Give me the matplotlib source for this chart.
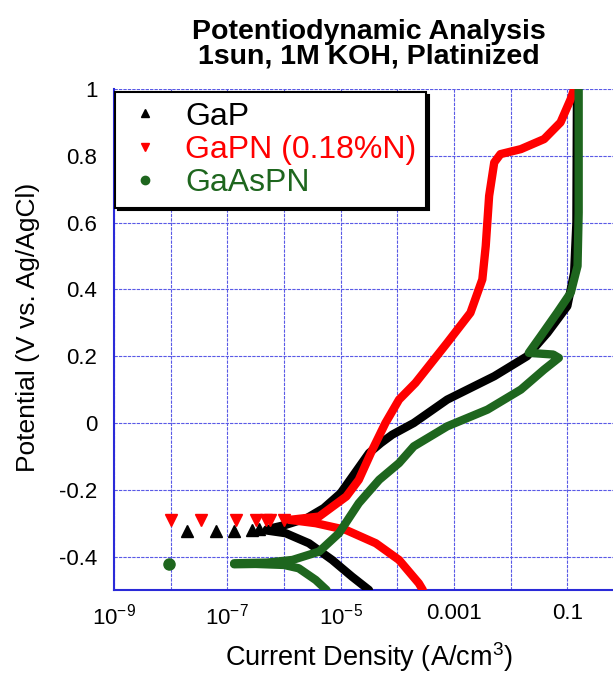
import numpy as np
import matplotlib.pyplot as plt
from matplotlib.lines import Line2D

plt.rcParams['font.family'] = ['Liberation Sans', 'DejaVu Sans']
plt.rcParams['mathtext.fontset'] = 'custom'
plt.rcParams['mathtext.rm'] = 'Liberation Sans'
plt.rcParams['mathtext.it'] = 'Liberation Sans'
plt.rcParams['mathtext.default'] = 'regular'

###################
# data (log10 of current density, potential V)
###################

# GaP
gap_pts_logi = [-7.72, -7.2, -6.88, -6.56, -6.44]
gap_pts_v = [-0.323, -0.323, -0.322, -0.32, -0.318]
gap_cat_logi = [-4.5, -4.8, -5.15, -5.56, -5.97, -6.3]
gap_cat_v = [-0.5, -0.46, -0.41, -0.36, -0.33, -0.322]
gap_ano_logi = [-6.3, -5.97, -5.6, -5.3, -5.0, -4.75, -4.5, -4.29, -4.09, -3.71,
                -3.12, -2.29, -1.71, -1.35, -1.0, -0.88, -0.84, -0.83]
gap_ano_v = [-0.318, -0.305, -0.285, -0.255, -0.21, -0.15, -0.09, -0.06, -0.035, 0.0,
             0.07, 0.14, 0.2, 0.27, 0.35, 0.45, 0.6, 1.0]

# GaPN (0.18%N)
gapn_pts_logi = [-8.0, -7.46, -6.84, -6.5, -6.32, -6.24, -6.0]
gapn_pts_v = [-0.29, -0.29, -0.29, -0.29, -0.29, -0.29, -0.29]
gapn_cat_logi = [-3.55, -3.62, -3.97, -4.38, -4.91, -5.44, -5.9]
gapn_cat_v = [-0.5, -0.48, -0.41, -0.36, -0.32, -0.30, -0.29]
gapn_ano_logi = [-5.9, -5.38, -4.9, -4.68, -4.44, -4.21, -3.97, -3.68, -3.12, -2.71,
                 -2.5, -2.44, -2.38, -2.29, -2.18, -1.82, -1.41, -1.12, -0.94, -0.88]
gapn_ano_v = [-0.29, -0.28, -0.22, -0.17, -0.08, 0.0, 0.07, 0.12, 0.24, 0.33,
              0.43, 0.53, 0.68, 0.78, 0.805, 0.82, 0.85, 0.9, 0.97, 1.0]

# GaAsPN
gaaspn_pts_logi = [-8.03]
gaaspn_pts_v = [-0.423]
gaaspn_cat_logi = [-5.25, -5.44, -5.74, -6.0, -6.5, -6.88]
gaaspn_cat_v = [-0.5, -0.47, -0.435, -0.425, -0.422, -0.423]
gaaspn_ano_logi = [-6.88, -6.3, -5.85, -5.38, -5.03, -4.68, -4.32, -3.97, -3.71, -3.12,
                   -2.41, -1.82, -1.41, -1.15, -1.25, -1.68, -1.47, -1.18, -0.94, -0.82,
                   -0.80, -0.80]
gaaspn_ano_v = [-0.42, -0.418, -0.41, -0.385, -0.33, -0.24, -0.17, -0.12, -0.07, -0.01,
                0.04, 0.10, 0.16, 0.195, 0.205, 0.21, 0.26, 0.33, 0.39, 0.47,
                0.63, 1.0]

labels = ['GaP', 'GaPN (0.18%N)', 'GaAsPN']
colors = ['black', '#ff0000', '#1e661e']
markers = ['^', 'v', 'o']

x_ticks = [1e-9, 1e-7, 1e-5, 1e-3, 1e-1]
x_ticklabels = ['$10^{-9}$', '$10^{-7}$', '$10^{-5}$', '0.001', '0.1']
y_ticks = [-0.4, -0.2, 0, 0.2, 0.4, 0.6, 0.8, 1]
y_ticklabels = ['-0.4', '-0.2', '0', '0.2', '0.4', '0.6', '0.8', '1']

###################
# plot
###################

fig = plt.figure(figsize=(6.13, 6.75), dpi=100)
ax = fig.add_axes([114/613, 85/675, 510/613, 501/675])

series = [
    (gap_pts_logi, gap_pts_v, gap_cat_logi, gap_cat_v, gap_ano_logi, gap_ano_v),
    (gapn_pts_logi, gapn_pts_v, gapn_cat_logi, gapn_cat_v, gapn_ano_logi, gapn_ano_v),
    (gaaspn_pts_logi, gaaspn_pts_v, gaaspn_cat_logi, gaaspn_cat_v, gaaspn_ano_logi, gaaspn_ano_v),
]

for i, (pl, pv, cl, cv, al, av) in enumerate(series):
    ax.plot(10**np.array(cl), cv, color=colors[i], lw=6,
            solid_capstyle='round', solid_joinstyle='round', zorder=3+i)
    ax.plot(10**np.array(al), av, color=colors[i], lw=6,
            solid_capstyle='round', solid_joinstyle='round', zorder=3+i)
    ax.plot(10**np.array(pl), pv, ls='none', marker=markers[i], ms=8,
            color=colors[i], zorder=3+i)

ax.set_xscale('log')
ax.set_xlim(1e-9, 1)
ax.set_ylim(-0.5, 1.0)

ax.set_xticks([10.0**k for k in range(-9, 1)], minor=False)
ax.set_xticklabels(['' for k in range(-9, 1)])
ax.set_xticks([], minor=True)
for t, lab in zip(x_ticks, x_ticklabels):
    ax.text(t, -0.5 - 0.04, lab, ha='center', va='top', fontsize=16,
            transform=ax.transData)
ax.set_yticks(y_ticks)
ax.set_yticklabels(y_ticklabels, fontsize=16)
ax.tick_params(axis='both', length=0, pad=12)

ax.grid(True, color='#5a5ae6', lw=0.8, ls=(0, (3, 1)))
for s in ['top', 'right']:
    ax.spines[s].set_visible(False)
for s in ['left', 'bottom']:
    ax.spines[s].set_color('#2a2ad8')
    ax.spines[s].set_linewidth(1.5)

ax.set_xlabel('Current Density (A/cm$^3$)', fontsize=19.5)
ax.xaxis.set_label_coords(0.5, -0.1)
ax.set_ylabel('Potential (V vs. Ag/AgCl)', fontsize=19)
ax.yaxis.set_label_coords(-0.145, 0.525)
ax.set_title('Potentiodynamic Analysis\n1sun, 1M KOH, Platinized',
             fontsize=20.5, fontweight='bold', pad=18, linespacing=0.95)

handles = [Line2D([], [], ls='none', marker=markers[i], color=colors[i], ms=6)
           for i in range(3)]
leg = ax.legend(handles, labels, loc='upper left', bbox_to_anchor=(0.002, 0.994),
                fontsize=23, frameon=True, fancybox=False, edgecolor='black',
                framealpha=1, borderaxespad=0, handlelength=1.3, handletextpad=0.6,
                labelspacing=0.1, borderpad=0.3,
                shadow={'color': 'black', 'alpha': 1},
                labelcolor=colors)
leg.get_frame().set_linewidth(1.5)
leg.set_zorder(10)

plt.savefig('out.png', dpi=100)
